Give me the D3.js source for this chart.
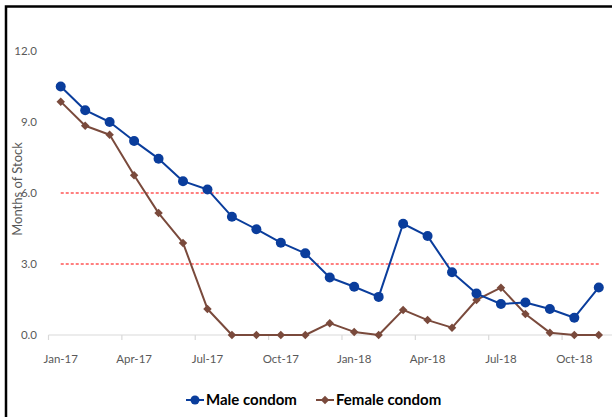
<!DOCTYPE html>
<html>
<head>
<meta charset="utf-8">
<script src="https://cdn.jsdelivr.net/npm/d3@7"></script>
<style>
  html, body { margin: 0; padding: 0; background: #fff; }
  svg { display: block; }
</style>
</head>
<body>
<svg id="chart" width="612" height="417"></svg>
<script>
// Monthly categories, Jan-17 through Nov-18
const months = ["Jan-17","Feb-17","Mar-17","Apr-17","May-17","Jun-17","Jul-17","Aug-17","Sep-17","Oct-17","Nov-17","Dec-17",
                "Jan-18","Feb-18","Mar-18","Apr-18","May-18","Jun-18","Jul-18","Aug-18","Sep-18","Oct-18","Nov-18"];
// Months of stock on hand
const maleCondom   = [10.5, 9.5, 9.0, 8.2, 7.45, 6.5, 6.15, 5.0, 4.47, 3.9, 3.45, 2.43,
                      2.04, 1.61, 4.7, 4.18, 2.65, 1.75, 1.31, 1.37, 1.1, 0.73, 2.01];
const femaleCondom = [9.86, 8.84, 8.46, 6.75, 5.15, 3.89, 1.1, 0.0, 0.0, 0.0, 0.0, 0.5,
                      0.13, 0.0, 1.06, 0.63, 0.31, 1.48, 2.0, 0.89, 0.1, 0.0, 0.0];
// Reference levels (min / max months of stock)
const thresholds = [3, 6];
const yTicks = [0, 3, 6, 9, 12];
const xTickLabels = ["Jan-17","Apr-17","Jul-17","Oct-17","Jan-18","Apr-18","Jul-18","Oct-18"];

const svg = d3.select("#chart");
const font = "Lato, 'Open Sans', sans-serif";

const x = d3.scaleBand().domain(months).range([48.5, 611]).padding(0);
const cx = m => x(m) + x.bandwidth() / 2;
const y = d3.scaleLinear().domain([0, 12]).range([335, 51]);

// Frame
svg.append("path")
  .attr("d", "M6,420 L6,6.5 L614,6.5")
  .attr("fill", "none").attr("stroke", "#000").attr("stroke-width", 2.5);

// Y axis labels
svg.append("g").selectAll("text").data(yTicks).join("text")
  .attr("x", 37).attr("y", d => y(d) + 4)
  .attr("text-anchor", "end")
  .attr("font-family", font).attr("font-size", 11.5).attr("fill", "#595959")
  .text(d => d.toFixed(1));

svg.append("text")
  .attr("transform", "translate(22,189) rotate(-90)")
  .attr("text-anchor", "middle")
  .attr("font-family", font).attr("font-size", 13).attr("fill", "#595959")
  .text("Months of Stock");

// X axis line and ticks every third month
const xAxis = svg.append("g");
xAxis.append("line")
  .attr("x1", 48.5).attr("x2", 612).attr("y1", y(0)).attr("y2", y(0))
  .attr("stroke", "#d9d9d9").attr("stroke-width", 1.2);
xAxis.selectAll("line.tick").data(xTickLabels).join("line").attr("class", "tick")
  .attr("x1", d => x(d)).attr("x2", d => x(d))
  .attr("y1", y(0)).attr("y2", y(0) + 5)
  .attr("stroke", "#d9d9d9").attr("stroke-width", 1.2);
xAxis.selectAll("text").data(xTickLabels).join("text")
  .attr("x", d => cx(d)).attr("y", y(0) + 28)
  .attr("text-anchor", "middle")
  .attr("font-family", font).attr("font-size", 11.5).attr("fill", "#595959")
  .text(d => d);

// Threshold lines
svg.append("g").selectAll("line").data(thresholds).join("line")
  .attr("x1", cx(months[0])).attr("x2", cx(months[months.length - 1]))
  .attr("y1", d => y(d)).attr("y2", d => y(d))
  .attr("stroke", "#ff0000").attr("stroke-width", 1.2)
  .attr("stroke-dasharray", "3,2");

const line = d3.line().x((d, i) => cx(months[i])).y(d => y(d));

const blue = "#0a3d9c";
const brown = "#7a4a3c";

// Female condom series (square markers turned 45° into diamonds)
svg.append("path").datum(femaleCondom)
  .attr("d", line).attr("fill", "none")
  .attr("stroke", brown).attr("stroke-width", 2).attr("stroke-linejoin", "round");
const diamond = d3.symbol().type(d3.symbolSquare).size(36);
svg.append("g").selectAll("path").data(femaleCondom).join("path")
  .attr("d", diamond)
  .attr("transform", (d, i) => `translate(${cx(months[i])},${y(d)}) rotate(45)`)
  .attr("fill", brown);

// Male condom series
svg.append("path").datum(maleCondom)
  .attr("d", line).attr("fill", "none")
  .attr("stroke", blue).attr("stroke-width", 2).attr("stroke-linejoin", "round");
svg.append("g").selectAll("circle").data(maleCondom).join("circle")
  .attr("cx", (d, i) => cx(months[i])).attr("cy", d => y(d))
  .attr("r", 5).attr("fill", blue);

// Legend
const legend = svg.append("g").attr("font-family", font).attr("font-size", 15)
  .attr("font-weight", "bold").attr("fill", "#000");
const ly = 400;
legend.append("line").attr("x1", 186).attr("x2", 204).attr("y1", ly).attr("y2", ly)
  .attr("stroke", blue).attr("stroke-width", 2);
legend.append("circle").attr("cx", 195).attr("cy", ly).attr("r", 4.5).attr("fill", blue);
legend.append("text").attr("x", 206).attr("y", ly + 5).text("Male condom");
legend.append("line").attr("x1", 316).attr("x2", 334).attr("y1", ly).attr("y2", ly)
  .attr("stroke", brown).attr("stroke-width", 2);
legend.append("path").attr("d", diamond).attr("transform", `translate(325,${ly}) rotate(45)`).attr("fill", brown);
legend.append("text").attr("x", 336).attr("y", ly + 5).text("Female condom");
</script>
</body>
</html>
